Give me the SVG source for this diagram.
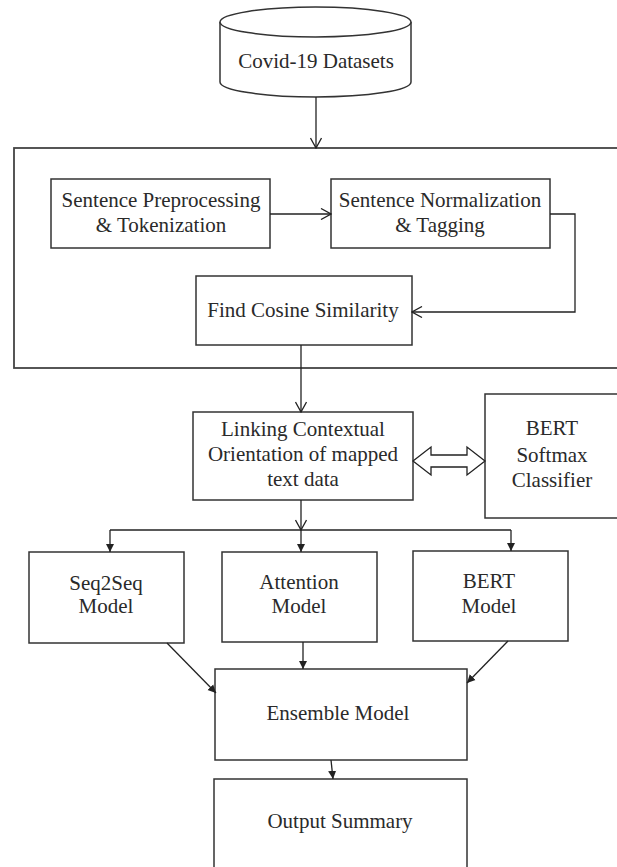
<svg xmlns="http://www.w3.org/2000/svg" width="617" height="867" viewBox="0 0 617 867">
<style>
.box{fill:#fff;stroke:#333;stroke-width:1.5}
.frame{fill:none;stroke:#444;stroke-width:1.8}
.ln{fill:none;stroke:#222;stroke-width:1.3}
.t{font-family:"Liberation Serif","Times New Roman",serif;font-size:21px;fill:#2a2a2a;text-anchor:middle}
</style>
<defs>
<marker id="open" viewBox="0 0 12 12" refX="11" refY="6" markerWidth="12" markerHeight="12" markerUnits="userSpaceOnUse" orient="auto">
<path d="M1,0.5 L11,6 L1,11.5" fill="none" stroke="#222" stroke-width="1.3"/>
</marker>
<marker id="fill" viewBox="0 0 10 10" refX="9" refY="5" markerWidth="9" markerHeight="9" markerUnits="userSpaceOnUse" orient="auto">
<path d="M0,0.5 L9,5 L0,9.5 Z" fill="#222"/>
</marker>
</defs>
<rect width="617" height="867" fill="#fff"/>

<g id="covid-datasets">
<path class="box" d="M220,22 L220,82 A95.5,15 0 0 0 411,82 L411,22"/>
<ellipse class="box" cx="315.5" cy="22" rx="95.5" ry="15"/>
<text class="t" x="316" y="68">Covid-19 Datasets</text>
</g>

<g id="preprocessing-frame">
<rect class="frame" x="14" y="148" width="630" height="220"/>
</g>

<g id="sentence-preprocessing">
<rect class="box" x="51" y="179" width="219" height="69"/>
<text class="t" x="161" y="207">Sentence Preprocessing</text>
<text class="t" x="161" y="232">&amp; Tokenization</text>
</g>

<g id="sentence-normalization">
<rect class="box" x="331" y="179" width="219" height="69"/>
<text class="t" x="440" y="207">Sentence Normalization</text>
<text class="t" x="440" y="232">&amp; Tagging</text>
</g>

<g id="cosine-similarity">
<rect class="box" x="196" y="276" width="216" height="69"/>
<text class="t" x="303" y="317">Find Cosine Similarity</text>
</g>

<g id="linking-contextual">
<rect class="box" x="193" y="412" width="220" height="88"/>
<text class="t" x="303" y="436">Linking Contextual</text>
<text class="t" x="303" y="461">Orientation of mapped</text>
<text class="t" x="303" y="486">text data</text>
</g>

<g id="bert-softmax">
<rect class="box" x="485" y="394" width="150" height="124"/>
<text class="t" x="552" y="435">BERT</text>
<text class="t" x="552" y="462">Softmax</text>
<text class="t" x="552" y="487">Classifier</text>
</g>

<g id="seq2seq-model">
<rect class="box" x="29" y="552" width="155" height="91"/>
<text class="t" x="106" y="590">Seq2Seq</text>
<text class="t" x="106" y="613">Model</text>
</g>

<g id="attention-model">
<rect class="box" x="222" y="552" width="155" height="90"/>
<text class="t" x="299" y="589">Attention</text>
<text class="t" x="299" y="613">Model</text>
</g>

<g id="bert-model">
<rect class="box" x="413" y="551" width="155" height="90"/>
<text class="t" x="489" y="588">BERT</text>
<text class="t" x="489" y="613">Model</text>
</g>

<g id="ensemble-model">
<rect class="box" x="215" y="669" width="252" height="91"/>
<text class="t" x="338" y="720">Ensemble Model</text>
</g>

<g id="output-summary">
<rect class="box" x="214" y="779" width="253" height="110"/>
<text class="t" x="340" y="828">Output Summary</text>
</g>

<g id="connectors">
<line class="ln" x1="316" y1="97" x2="316" y2="148" marker-end="url(#open)"/>
<line class="ln" x1="270" y1="214" x2="331" y2="214" marker-end="url(#open)"/>
<polyline class="ln" points="550,214 575,214 575,312 412,312" marker-end="url(#open)"/>
<line class="ln" x1="301" y1="345" x2="301" y2="412" marker-end="url(#open)"/>
<line class="ln" x1="301" y1="500" x2="301" y2="530" marker-end="url(#open)"/>
<line class="ln" x1="110" y1="530" x2="511" y2="530"/>
<line class="ln" x1="110" y1="530" x2="110" y2="552" marker-end="url(#fill)"/>
<line class="ln" x1="301" y1="530" x2="301" y2="552" marker-end="url(#fill)"/>
<line class="ln" x1="511" y1="530" x2="511" y2="551" marker-end="url(#fill)"/>
<line class="ln" x1="167" y1="643" x2="216" y2="693" marker-end="url(#fill)"/>
<line class="ln" x1="303" y1="642" x2="303" y2="669" marker-end="url(#fill)"/>
<line class="ln" x1="508" y1="641" x2="467" y2="683" marker-end="url(#fill)"/>
<line class="ln" x1="331" y1="760" x2="333" y2="779" marker-end="url(#fill)"/>
<path d="M413,461 L431,447 L431,455 L467,455 L467,447 L485,461 L467,475 L467,467 L431,467 L431,475 Z" fill="#fff" stroke="#222" stroke-width="1.3"/>
</g>
</svg>
